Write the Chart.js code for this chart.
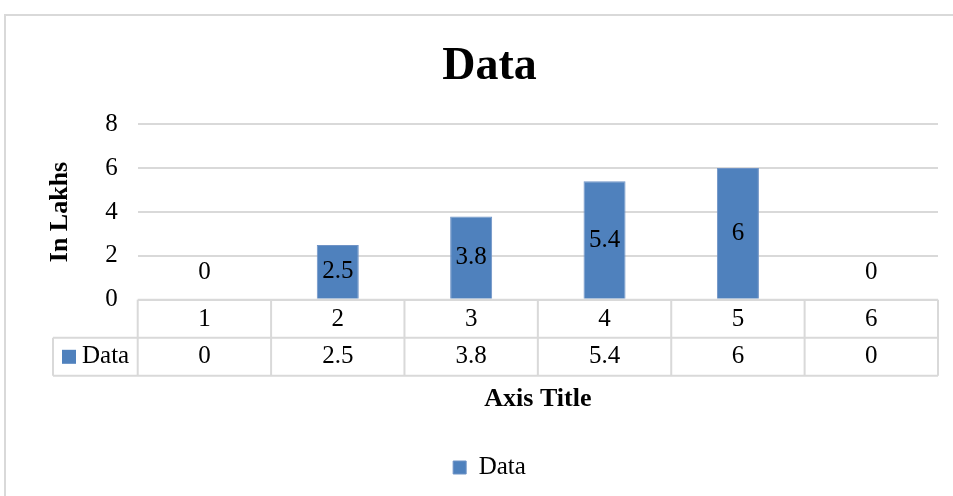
<!DOCTYPE html>
<html>
<head>
<meta charset="utf-8">
<title>Data</title>
<script src="https://cdn.jsdelivr.net/npm/chart.js@4.4.1/dist/chart.umd.min.js"></script>
<style>
  html, body { margin: 0; padding: 0; background: #ffffff; overflow: hidden; }
  #frame {
    position: absolute; left: 4px; top: 14px; width: 1200px; height: 800px;
    border: 2px solid #d9d9d9; box-sizing: border-box;
  }
  #wrap { position: absolute; left: 0; top: 0; width: 953px; height: 496px; }
</style>
</head>
<body>
<div id="frame"></div>
<div id="wrap"><canvas id="chart" width="953" height="496"></canvas></div>
<script>
// Series and axis data
const categories = ['1', '2', '3', '4', '5', '6'];
const seriesName = 'Data';
const values = [0, 2.5, 3.8, 5.4, 6, 0];
const yMin = 0;
const yMax = 8;
const yStep = 2;

const SERIF = '"Liberation Serif", "Times New Roman", serif';
const BAR_BLUE = '#4f81bd';
const GRID_GREY = '#d9d9d9';
const TEXT = '#000000';
const ROW_H = 38;           // height of one data-table row
const TABLE_LEFT = 53;      // left edge of the series row (legend key column)

// Value labels centred inside each bar
const barLabels = {
  id: 'barLabels',
  afterDatasetsDraw(chart) {
    const ctx = chart.ctx;
    const meta = chart.getDatasetMeta(0);
    ctx.save();
    ctx.font = '25px ' + SERIF;
    ctx.fillStyle = TEXT;
    ctx.textAlign = 'center';
    ctx.textBaseline = 'middle';
    meta.data.forEach((bar, i) => {
      const v = chart.data.datasets[0].data[i];
      const y = v === 0 ? bar.base - 27 : (bar.y + bar.base) / 2;
      ctx.fillText(String(v), bar.x, y);
    });
    ctx.restore();
  }
};

// Data table under the plot: category row (axis ticks) plus a series row
const dataTable = {
  id: 'dataTable',
  afterDraw(chart) {
    const ctx = chart.ctx;
    const xs = chart.scales.x;
    const area = chart.chartArea;
    const top = area.bottom;
    const mid = top + ROW_H;
    const bot = mid + ROW_H;
    const n = categories.length;
    const cw = (area.right - area.left) / n;

    ctx.save();
    ctx.strokeStyle = GRID_GREY;
    ctx.lineWidth = 2;
    ctx.beginPath();
    // horizontal rules
    ctx.moveTo(area.left, top); ctx.lineTo(area.right, top);
    ctx.moveTo(TABLE_LEFT, mid); ctx.lineTo(area.right, mid);
    ctx.moveTo(TABLE_LEFT, bot); ctx.lineTo(area.right, bot);
    // vertical rules
    ctx.moveTo(TABLE_LEFT, mid); ctx.lineTo(TABLE_LEFT, bot);
    for (let i = 0; i <= n; i++) {
      const x = area.left + i * cw;
      ctx.moveTo(x, top); ctx.lineTo(x, bot);
    }
    ctx.stroke();

    // series row: key + name, then values
    const cy = (mid + bot) / 2;
    ctx.fillStyle = BAR_BLUE;
    ctx.fillRect(TABLE_LEFT + 9, cy - 7, 14, 14);
    ctx.font = '25px ' + SERIF;
    ctx.fillStyle = TEXT;
    ctx.textBaseline = 'middle';
    ctx.textAlign = 'left';
    ctx.fillText(seriesName, TABLE_LEFT + 29, cy);
    ctx.textAlign = 'center';
    values.forEach((v, i) => {
      ctx.fillText(String(v), xs.getPixelForValue(i), cy);
    });
    ctx.restore();
  }
};

new Chart(document.getElementById('chart'), {
  type: 'bar',
  data: {
    labels: categories,
    datasets: [{
      label: seriesName,
      data: values,
      backgroundColor: BAR_BLUE,
      borderColor: '#6f93c6',
      borderWidth: 1,
      barPercentage: 0.315,
      categoryPercentage: 1.0
    }]
  },
  options: {
    responsive: false,
    animation: false,
    devicePixelRatio: 1,
    layout: { padding: { left: 41, right: 15, top: 0, bottom: 6 } },
    plugins: {
      title: {
        display: true,
        text: 'Data',
        color: TEXT,
        font: { family: SERIF, size: 46, weight: 'bold', lineHeight: 1.2 },
        padding: { top: 40, bottom: 29 }
      },
      legend: {
        display: true,
        position: 'bottom',
        labels: {
          color: TEXT,
          font: { family: SERIF, size: 25, lineHeight: 1.2 },
          boxWidth: 13,
          boxHeight: 13,
          padding: 10
        }
      },
      tooltip: { enabled: false }
    },
    scales: {
      x: {
        grid: { display: false, drawTicks: false },
        border: { display: false },
        ticks: {
          color: TEXT,
          font: { family: SERIF, size: 25, lineHeight: 1.2 },
          padding: 5,
          maxRotation: 0
        },
        title: {
          display: true,
          text: 'Axis Title',
          color: TEXT,
          font: { family: SERIF, size: 26, weight: 'bold', lineHeight: 1.2 },
          padding: { top: 44, bottom: 30 }
        }
      },
      y: {
        min: yMin,
        max: yMax,
        ticks: {
          stepSize: yStep,
          color: TEXT,
          font: { family: SERIF, size: 25, lineHeight: 1.2 },
          padding: 20
        },
        grid: { color: GRID_GREY, lineWidth: 2, drawTicks: false },
        border: { display: false },
        title: {
          display: true,
          text: 'In Lakhs',
          color: TEXT,
          font: { family: SERIF, size: 26, weight: 'bold', lineHeight: 1.2 },
          padding: { top: 4, bottom: 9 }
        }
      }
    }
  },
  plugins: [barLabels, dataTable]
});
</script>
</body>
</html>
